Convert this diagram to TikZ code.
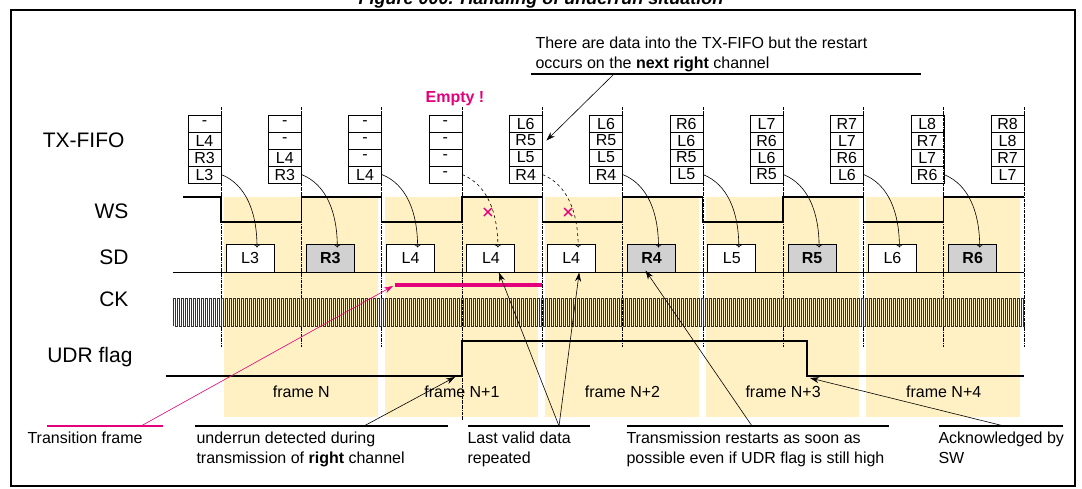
\documentclass[tikz,border=0pt]{standalone}
\usepackage{fontspec}
\setmainfont{Liberation Sans}
\usepackage{tikz}
\usetikzlibrary{arrows.meta,arrows}
\definecolor{shadeY}{RGB}{255,241,196}
\definecolor{magentaE}{RGB}{228,0,124}
\tikzset{
  cell/.style={draw, minimum width=33pt, minimum height=17pt, inner sep=0pt, font=\fontsize{16}{16}\selectfont},
  sdbox/.style={draw, line width=1pt, fill=white, minimum width=48pt, minimum height=28pt, inner sep=0pt, font=\fontsize{16}{16}\selectfont},
  sdR/.style={sdbox, fill=black!18, font=\fontsize{16}{16}\selectfont\bfseries},
  sig/.style={line width=1.3pt},
  lbl/.style={anchor=east, font=\fontsize{21}{21}\selectfont},
  note/.style={anchor=north west, align=left, font=\fontsize{16}{20}\selectfont},
  uline/.style={line width=1.3pt},
  ptr/.style={-{Stealth[length=9pt,width=6pt]}, line width=0.6pt},
}
\begin{document}
\begin{tikzpicture}[x=1pt,y=-1pt]
\useasboundingbox (0,0) rectangle (1082,488);
\node[anchor=base, font=\fontsize{18}{18}\selectfont\bfseries\itshape] (title) at (541,4) {Figure 000. Handling of underrun situation};
\draw[line width=1.5pt] (11,10) rectangle (1075,486);
%%% slot boundaries
\foreach \k in {0,...,10} \coordinate (b\k) at (221+80.3*\k,0);
\coordinate (hi) at (0,197);
\coordinate (lo) at (0,222);
%%% frames
\foreach \f/\t in {0/N,2/N+1,4/N+2,6/N+3,8/N+4}{
  \pgfmathtruncatemacro\m{\f+1}
  \pgfmathtruncatemacro\e{\f+2}
  \fill[shadeY] ([xshift=3pt]b\f|-hi) rectangle ([xshift=-4pt]b\e|-0,417);
  \node[font=\fontsize{16}{16}\selectfont] (fr\f) at (b\m|-0,392) {frame \t};
}
%%% dash-dot slot lines
\foreach \k in {0,...,10} \draw[densely dashdotted, line width=0.5pt] (b\k|-0,107) -- (b\k|-0,347);
\draw[densely dashdotted, line width=0.5pt] (b3|-0,347) -- (b3|-0,420);
%%% row labels
\node[lbl] (lfifo) at (128,140) {TX-FIFO};
\node[lbl] (lws) at (132,211) {WS};
\node[lbl] (lsd) at (132,257) {SD};
\node[lbl] (lck) at (132,299) {CK};
\node[lbl] (ludr) at (136,357) {UDR flag};
%%% TX-FIFO contents
\foreach \k/\a/\b/\c/\d in {1/-/L4/R3/L3, 2/-/-/L4/R3, 3/-/-/-/L4, 4/-/-/-/-, 5/L6/R5/L5/R4,
  6/L6/R5/L5/R4, 7/R6/L6/R5/L5, 8/L7/R6/L6/R5, 9/R7/L7/R6/L6, 10/L8/R7/L7/R6, 11/R8/L8/R7/L7}{
  \pgfmathtruncatemacro\p{\k-1}
  \node[cell] (c\k-1) at ([xshift=-16.5pt]b\p|-0,123.5) {\a};
  \node[cell] (c\k-2) at ([xshift=-16.5pt]b\p|-0,140.5) {\b};
  \node[cell] (c\k-3) at ([xshift=-16.5pt]b\p|-0,157.5) {\c};
  \node[cell] (c\k-4) at ([xshift=-16.5pt]b\p|-0,174.5) {\d};
}
\node[font=\fontsize{16}{16}\selectfont\bfseries, text=magentaE] (empty) at (455,99) {Empty !};
%%% WS
\draw[sig] (183,197) \foreach \k [evaluate=\k as \n using int(\k+1)] in {0,2,4,6,8}{
  -- (b\k|-hi) -- (b\k|-lo) -- (b\n|-lo) -- (b\n|-hi) } -- (b10|-hi);
%%% SD
\draw[line width=0.8pt] (173,272) -- (b10|-0,272);
\foreach \k/\s/\t in {0/sdbox/L3, 1/sdR/R3, 2/sdbox/L4, 3/sdbox/L4, 4/sdbox/L4,
  5/sdR/R4, 6/sdbox/L5, 7/sdR/R5, 8/sdbox/L6, 9/sdR/R6}
  \node[\s] (sd\k) at ([xshift=29pt]b\k|-0,258) {\t};
%%% FIFO -> SD
\foreach \k/\d in {1/solid,2/solid,3/solid,4/dashed,5/dashed,6/solid,7/solid,8/solid,9/solid,10/solid}{
  \pgfmathtruncatemacro\p{\k-1}
  \draw[->, line width=0.6pt, \d] (c\k-4.east) .. controls +(25,10) and +(0,-35) .. ([xshift=7pt,yshift=-4pt]sd\p.north);
}
\foreach \k in {3,4}
  \draw[magentaE, line width=1.4pt] ([xshift=22pt]b\k|-0,208) -- ++(8,8) ++(0,-8) -- ++(-8,8);
%%% CK
\draw[line width=0.5pt, black!80] (173,326) \foreach \i in {1,...,213}{ -- ++(0,-28) -- ++(2,0) -- ++(0,28) -- ++(2,0)};
%%% UDR flag
\draw[sig] (166,376) -- (b3|-0,376) -- (b3|-0,341) -- (807,341) -- (807,376) -- (b10|-0,376);
\coordinate (rise) at (455,377);
\coordinate (fall) at (810,378);
%%% transition frame
\draw[magentaE, line width=3.5pt] (395,285) -- (b4|-0,285);
\coordinate (trs) at (393,286);
%%% notes
\node[note] (n1) at (24,428) {Transition frame};
\node[note] (n2) at (193,428) {underrun detected during\\transmission of \textbf{right} channel};
\node[note] (n3) at (464,428) {Last valid data\\repeated};
\node[note] (n4) at (623,428) {Transmission restarts as soon as\\possible even if UDR flag is still high};
\node[note] (n5) at (935,428) {Acknowledged by\\SW};
\node[note] (n6) at (532,33) {There are data into the TX-FIFO but the restart\\occurs on the \textbf{next right} channel};
\draw[uline, magentaE] (47,426) -- (163,426);
\draw[uline] (195,426) -- (448,426);
\draw[uline] (468,426) -- (590,426);
\draw[uline] (627,426) -- (889,426);
\draw[uline] (939,426) -- (1063,426);
\draw[uline] (531,74) -- (921,74);
\draw[ptr, magentaE] (141,426) -- (trs);
\draw[ptr] (364,426) -- (rise);
\draw[ptr] (559,426) -- ([xshift=8pt]sd3.south);
\draw[ptr] (559,426) -- ([xshift=8pt]sd4.south);
\draw[ptr] (752,426) -- ([xshift=-6pt,yshift=2pt]sd5.south);
\draw[ptr] (1004,426) -- (fall);
\draw[ptr] (614,74) -- ([xshift=4pt]c5-2.east);
\end{tikzpicture}
\end{document}
